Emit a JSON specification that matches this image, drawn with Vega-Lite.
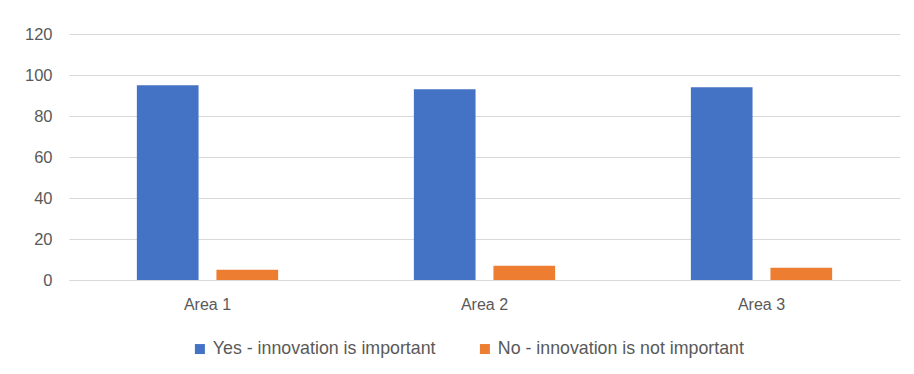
{
  "$schema": "https://vega.github.io/schema/vega-lite/v6.json",
  "autosize": "none",
  "width": 831,
  "height": 246,
  "padding": {"left": 69, "top": 34, "right": 14, "bottom": 94},
  "background": "white",
  "config": {
    "view": {"stroke": null},
    "font": "Liberation Sans",
    "axis": {"labelFont": "Liberation Sans", "labelColor": "#595959", "labelFontSize": 16},
    "legend": {"labelFont": "Liberation Sans", "labelColor": "#595959", "labelFontSize": 17.8, "labelLimit": 0}
  },
  "data": {
    "values": [
      {"area": "Area 1", "answer": "Yes - innovation is important", "value": 95},
      {"area": "Area 1", "answer": "No - innovation is not important", "value": 5},
      {"area": "Area 2", "answer": "Yes - innovation is important", "value": 93},
      {"area": "Area 2", "answer": "No - innovation is not important", "value": 7},
      {"area": "Area 3", "answer": "Yes - innovation is important", "value": 94},
      {"area": "Area 3", "answer": "No - innovation is not important", "value": 6}
    ]
  },
  "mark": {"type": "bar"},
  "encoding": {
    "x": {
      "field": "area",
      "type": "nominal",
      "title": null,
      "scale": {"paddingInner": 0.49, "paddingOuter": 0.245},
      "axis": {"labelAngle": 0, "ticks": false, "domainColor": "#d9d9d9", "domainWidth": 1, "labelPadding": 16, "labelBaseline": "top"}
    },
    "xOffset": {
      "field": "answer",
      "type": "nominal",
      "sort": ["Yes - innovation is important", "No - innovation is not important"],
      "scale": {"paddingInner": 0.225, "paddingOuter": 0}
    },
    "y": {
      "field": "value",
      "type": "quantitative",
      "title": null,
      "scale": {"domain": [0, 120]},
      "axis": {"values": [0, 20, 40, 60, 80, 100, 120], "ticks": false, "domain": false, "gridColor": "#d9d9d9", "gridWidth": 1, "labelPadding": 17, "labelFontSize": 16.5}
    },
    "color": {
      "field": "answer",
      "type": "nominal",
      "sort": ["Yes - innovation is important", "No - innovation is not important"],
      "scale": {"domain": ["Yes - innovation is important", "No - innovation is not important"], "range": ["#4472C4", "#ED7D31"]},
      "legend": {
        "title": null,
        "orient": "none",
        "legendX": 122,
        "legendY": 306,
        "direction": "horizontal",
        "symbolType": "square",
        "symbolSize": 100,
        "symbolStrokeWidth": 0,
        "labelOffset": 4,
        "columnPadding": 40
      }
    }
  }
}
